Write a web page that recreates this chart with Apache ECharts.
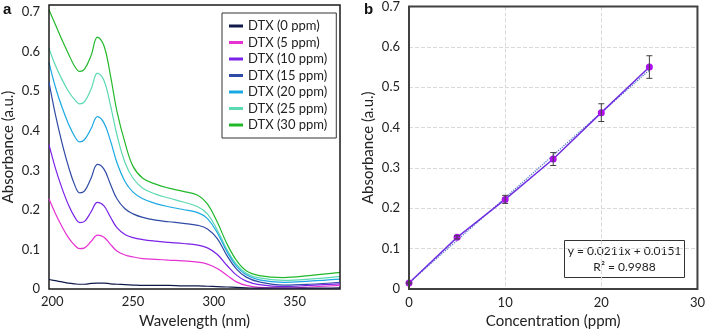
<!DOCTYPE html>
<html>
<head>
<meta charset="utf-8">
<script src="https://cdn.jsdelivr.net/npm/echarts@6/dist/echarts.min.js"></script>
<style>
  html, body { margin: 0; padding: 0; background: #fff; }
  #chart { width: 708px; height: 334px; }
</style>
</head>
<body>
<div id="chart"></div>
<script>
// panel a: UV-Vis spectra
var wavelength = [198, 202, 206, 210, 214, 217, 220, 224, 228, 232, 236, 240, 245, 250, 256, 264, 272, 281, 290, 296, 302, 308, 314, 320, 328, 343, 359, 378];
var spec0  = [0.024, 0.021, 0.018, 0.015, 0.013, 0.012, 0.012, 0.014, 0.015, 0.015, 0.013, 0.012, 0.011, 0.010, 0.009, 0.009, 0.009, 0.008, 0.008, 0.007, 0.006, 0.005, 0.004, 0.003, 0.002, 0.002, 0.002, 0.003];
var spec5  = [0.228, 0.190, 0.158, 0.130, 0.110, 0.102, 0.104, 0.120, 0.136, 0.131, 0.113, 0.096, 0.086, 0.081, 0.077, 0.075, 0.073, 0.071, 0.068, 0.063, 0.052, 0.035, 0.018, 0.009, 0.004, 0.002, 0.005, 0.009];
var spec10 = [0.365, 0.305, 0.255, 0.213, 0.181, 0.168, 0.171, 0.195, 0.219, 0.210, 0.182, 0.155, 0.138, 0.130, 0.125, 0.121, 0.118, 0.115, 0.111, 0.104, 0.088, 0.060, 0.035, 0.020, 0.011, 0.006, 0.009, 0.013];
var spec15 = [0.523, 0.440, 0.370, 0.310, 0.262, 0.243, 0.248, 0.280, 0.315, 0.303, 0.265, 0.228, 0.203, 0.190, 0.181, 0.174, 0.170, 0.166, 0.161, 0.152, 0.128, 0.085, 0.050, 0.030, 0.018, 0.010, 0.012, 0.017];
var spec20 = [0.573, 0.510, 0.460, 0.418, 0.385, 0.372, 0.378, 0.405, 0.436, 0.420, 0.375, 0.320, 0.272, 0.245, 0.228, 0.216, 0.208, 0.201, 0.193, 0.178, 0.143, 0.095, 0.057, 0.036, 0.023, 0.017, 0.020, 0.025];
var spec25 = [0.608, 0.565, 0.530, 0.500, 0.478, 0.468, 0.474, 0.505, 0.546, 0.527, 0.465, 0.390, 0.320, 0.280, 0.255, 0.240, 0.230, 0.220, 0.208, 0.190, 0.150, 0.100, 0.062, 0.040, 0.028, 0.022, 0.025, 0.032];
var spec30 = [0.706, 0.668, 0.630, 0.595, 0.562, 0.550, 0.556, 0.590, 0.637, 0.615, 0.540, 0.450, 0.370, 0.310, 0.280, 0.265, 0.255, 0.247, 0.237, 0.215, 0.170, 0.115, 0.072, 0.046, 0.034, 0.029, 0.034, 0.042];
var specNames = ['DTX (0 ppm)', 'DTX (5 ppm)', 'DTX (10 ppm)', 'DTX (15 ppm)', 'DTX (20 ppm)', 'DTX (25 ppm)', 'DTX (30 ppm)'];
var specColors = ['#101a4a', '#e632d2', '#7a22e6', '#2f4aa4', '#1aa8e2', '#5cd8b2', '#22b82a'];
var wlTicks = [200, 250, 300, 350];

// panel b: calibration
var conc = [0, 5, 10, 15, 20, 25];
var absorb = [0.015, 0.128, 0.222, 0.322, 0.437, 0.550];
var absErr = [0.002, 0.004, 0.010, 0.016, 0.022, 0.028];
var fitSlope = 0.0211;
var fitIntercept = 0.0151;

var FONT = 'Lato, "Noto Sans", sans-serif';

var chart = echarts.init(document.getElementById('chart'));

var specAll = [spec0, spec5, spec10, spec15, spec20, spec25, spec30];
var series = [];
specAll.forEach(function (arr, i) {
  series.push({
    name: specNames[i],
    type: 'line',
    xAxisIndex: 0,
    yAxisIndex: 0,
    smooth: 0.4,
    showSymbol: false,
    data: wavelength.map(function (w, j) { return [w, arr[j]]; }),
    lineStyle: { color: specColors[i], width: 1.2 },
    itemStyle: { color: specColors[i] },
    z: 2 + (6 - i)
  });
});

// trendline (from the fitted equation)
series.push({
  type: 'line',
  xAxisIndex: 1,
  yAxisIndex: 1,
  showSymbol: false,
  data: [[conc[0], fitIntercept + fitSlope * conc[0]], [conc[conc.length - 1], fitIntercept + fitSlope * conc[conc.length - 1]]],
  lineStyle: { color: '#4472c4', width: 1.2, type: 'dotted' },
  z: 2
});
series.push({
  type: 'line',
  xAxisIndex: 1,
  yAxisIndex: 1,
  symbol: 'circle',
  symbolSize: 7,
  data: conc.map(function (c, i) { return [c, absorb[i]]; }),
  lineStyle: { color: '#7030e0', width: 1.5 },
  itemStyle: { color: '#b010f0' },
  z: 3
});
// error bars
series.push({
  type: 'custom',
  xAxisIndex: 1,
  yAxisIndex: 1,
  data: conc.map(function (c, i) { return [c, absorb[i] - absErr[i], absorb[i] + absErr[i]]; }),
  renderItem: function (params, api) {
    var lo = api.coord([api.value(0), api.value(1)]);
    var hi = api.coord([api.value(0), api.value(2)]);
    var w = 3;
    var st = { stroke: '#404040', lineWidth: 1 };
    return {
      type: 'group',
      children: [
        { type: 'line', shape: { x1: lo[0], y1: lo[1], x2: hi[0], y2: hi[1] }, style: st },
        { type: 'line', shape: { x1: lo[0] - w, y1: lo[1], x2: lo[0] + w, y2: lo[1] }, style: st },
        { type: 'line', shape: { x1: hi[0] - w, y1: hi[1], x2: hi[0] + w, y2: hi[1] }, style: st }
      ]
    };
  },
  z: 4
});

var labelStyle = { color: '#222', fontSize: 13, fontFamily: FONT };
var nameStyle = { color: '#222', fontSize: 15, fontFamily: FONT };
var gridLine = { show: true, showMinLine: false, showMaxLine: false, lineStyle: { color: '#d9d9d9', type: 'dashed', width: 1 } };

var option = {
  animation: false,
  textStyle: { fontFamily: FONT },
  grid: [
    { left: 49, top: 5, width: 291, height: 288, show: true, borderColor: '#1a1a1a', borderWidth: 1.5, backgroundColor: 'transparent', z: 5 },
    { left: 409, top: 5, width: 291, height: 287, show: true, borderColor: '#404040', borderWidth: 2, backgroundColor: 'transparent', z: 5 }
  ],
  legend: {
    data: specNames,
    orient: 'vertical',
    left: 222,
    top: 13,
    padding: [6, 9, 6, 7],
    itemGap: 2.5,
    itemWidth: 14,
    itemHeight: 3,
    icon: 'rect',
    borderColor: '#333',
    borderWidth: 1,
    backgroundColor: '#fff',
    textStyle: { color: '#222', fontSize: 13, fontFamily: FONT, lineHeight: 14 }
  },
  xAxis: [
    {
      gridIndex: 0, type: 'value', min: 198, max: 378,
      name: 'Wavelength (nm)', nameLocation: 'middle', nameGap: 25, nameTextStyle: nameStyle,
      axisLine: { show: false }, axisTick: { show: false }, splitLine: { show: false },
      axisLabel: Object.assign({ margin: 6, customValues: wlTicks }, labelStyle)
    },
    {
      gridIndex: 1, type: 'value', min: 0, max: 30, interval: 10,
      name: 'Concentration (ppm)', nameLocation: 'middle', nameGap: 25, nameTextStyle: nameStyle,
      axisLine: { show: false }, axisTick: { show: false },
      splitLine: gridLine,
      axisLabel: Object.assign({ margin: 7 }, labelStyle)
    }
  ],
  yAxis: [
    {
      gridIndex: 0, type: 'value', min: 0, max: 0.718, interval: 0.1,
      name: 'Absorbance (a.u.)', nameLocation: 'middle', nameGap: 33, nameTextStyle: nameStyle,
      axisLine: { show: false }, axisTick: { show: false }, splitLine: { show: false },
      axisLabel: Object.assign({
        margin: 9,
        formatter: function (v) {
          var t = Math.round(v * 10);
          if (Math.abs(v * 10 - t) > 1e-6) return '';
          return t === 0 ? '0' : (t / 10).toFixed(1);
        }
      }, labelStyle)
    },
    {
      gridIndex: 1, type: 'value', min: 0, max: 0.7, interval: 0.1,
      name: 'Absorbance (a.u.)', nameLocation: 'middle', nameGap: 33, nameTextStyle: nameStyle,
      axisLine: { show: false }, axisTick: { show: false },
      splitLine: gridLine,
      axisLabel: Object.assign({
        margin: 9,
        formatter: function (v) {
          var t = Math.round(v * 10);
          return t === 0 ? '0' : (t / 10).toFixed(1);
        }
      }, labelStyle)
    }
  ],
  graphic: [
    { type: 'text', left: 3, top: 2, style: { text: 'a', fontSize: 15, fontWeight: 'bold', fontFamily: '"Liberation Sans", Arial, sans-serif', fill: '#111' } },
    { type: 'text', left: 364, top: 2, style: { text: 'b', fontSize: 15, fontWeight: 'bold', fontFamily: '"Liberation Sans", Arial, sans-serif', fill: '#111' } },
    {
      type: 'group', left: 564, top: 240, z: 10,
      children: [
        { type: 'rect', shape: { x: 0, y: 0, width: 120, height: 37 }, style: { fill: '#fff', stroke: '#333', lineWidth: 1 } },
        { type: 'text', x: 60, y: 11, style: { text: 'y = 0.0211x + 0.0151', fontSize: 12, fontFamily: FONT, fill: '#222', align: 'center', verticalAlign: 'middle' } },
        { type: 'text', x: 60, y: 27, style: { text: 'R² = 0.9988', fontSize: 12, fontFamily: FONT, fill: '#222', align: 'center', verticalAlign: 'middle' } }
      ]
    }
  ],
  series: series
};

chart.setOption(option);
</script>
</body>
</html>
